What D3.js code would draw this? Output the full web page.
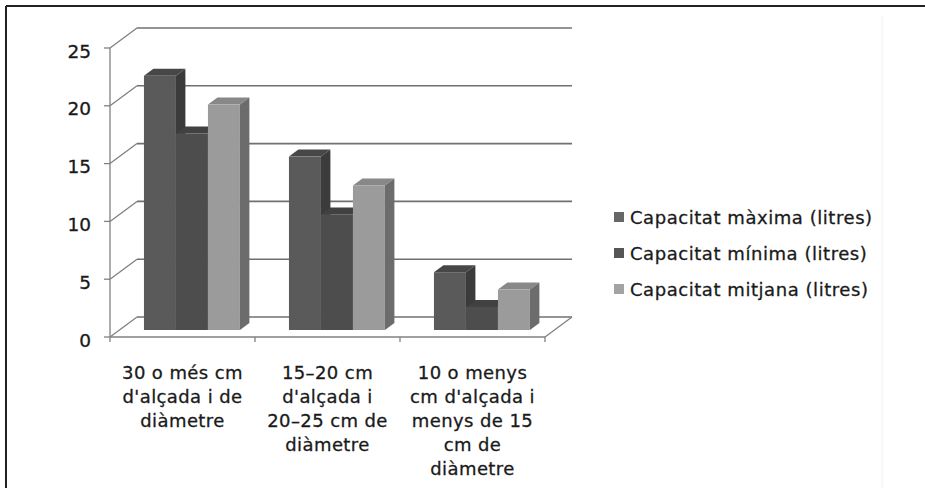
<!DOCTYPE html>
<html>
<head>
<meta charset="utf-8">
<script src="https://cdn.jsdelivr.net/npm/d3@7/dist/d3.min.js"></script>
<style>
  html, body { margin: 0; padding: 0; background: #fff; }
  svg { display: block; }
  text { font-family: "DejaVu Sans", Verdana, sans-serif; fill: #1a1a1a; stroke: #1a1a1a; stroke-width: 0.3px; }
</style>
</head>
<body>
<svg id="chart" width="925" height="488"></svg>
<script>
// ---- data ----
const categories = [
  ["30 o més cm", "d'alçada i de", "diàmetre"],
  ["15–20 cm", "d'alçada i", "20–25 cm de", "diàmetre"],
  ["10 o menys", "cm d'alçada i", "menys de 15", "cm de", "diàmetre"]
];
const seriesNames = ["Capacitat màxima (litres)", "Capacitat mínima (litres)", "Capacitat mitjana (litres)"];
const maxValues = [22, 15, 5];
const minValues = [17, 10, 2];
const avgValues = [19.5, 12.5, 3.5];
const yTicks = [0, 5, 10, 15, 20, 25];

const seriesValues = [maxValues, minValues, avgValues];
const faceColors = [
  { front: "#5a5a5a", top: "#474747", side: "#3b3b3b", legend: "#666666" },
  { front: "#4d4d4d", top: "#414141", side: "#333333", legend: "#555555" },
  { front: "#9b9b9b", top: "#888888", side: "#6c6c6c", legend: "#a3a3a3" }
];

const svg = d3.select("#chart");

// border
svg.append("line").attr("x1", 6).attr("y1", 6).attr("x2", 925).attr("y2", 6).attr("stroke", "#222").attr("stroke-width", 2);
svg.append("line").attr("x1", 6).attr("y1", 6).attr("x2", 6).attr("y2", 488).attr("stroke", "#222").attr("stroke-width", 2);
svg.append("line").attr("x1", 882).attr("y1", 16).attr("x2", 882).attr("y2", 488).attr("stroke", "#f2f2f2").attr("stroke-width", 1);

// geometry
const DX = 27, DY = -20; // full depth offset
const x0 = d3.scaleBand().domain(d3.range(categories.length)).range([110, 545]).paddingInner(0).paddingOuter(0);
const x1 = d3.scaleBand().domain(d3.range(seriesNames.length)).range([0, x0.bandwidth()]).paddingInner(0).paddingOuter(0.766);
const y = d3.scaleLinear().domain([0, 25]).range([337, 48]);

const grid = svg.append("g");
// back wall gridlines and left wall diagonals
yTicks.forEach(t => {
  grid.append("line")
    .attr("x1", 110 + DX).attr("y1", y(t) + DY)
    .attr("x2", 545 + DX).attr("y2", y(t) + DY)
    .attr("stroke", "#707070").attr("stroke-width", 1.6);
  grid.append("line")
    .attr("x1", 110).attr("y1", y(t))
    .attr("x2", 110 + DX).attr("y2", y(t) + DY)
    .attr("stroke", "#808080").attr("stroke-width", 1.3);
});
// floor right edge
grid.append("line")
  .attr("x1", 545).attr("y1", y(0)).attr("x2", 545 + DX).attr("y2", y(0) + DY)
  .attr("stroke", "#808080").attr("stroke-width", 1.3);

// bars
const f0 = 0.35, f1 = 0.70;
const bars = svg.append("g");
categories.forEach((c, ci) => {
  seriesValues.forEach((vals, si) => {
    const v = vals[ci];
    const xl = x0(ci) + x1(si) + f0 * DX;
    const w = x1.bandwidth();
    const yb = y(0) + f0 * DY;
    const yt = y(v) + f0 * DY;
    const ddx = (f1 - f0) * DX, ddy = (f1 - f0) * DY;
    const col = faceColors[si];
    bars.append("path")
      .attr("d", `M${xl},${yt}L${xl + w},${yt}L${xl + w + ddx},${yt + ddy}L${xl + ddx},${yt + ddy}Z`)
      .attr("fill", col.top);
    bars.append("path")
      .attr("d", `M${xl + w},${yt}L${xl + w + ddx},${yt + ddy}L${xl + w + ddx},${yb + ddy}L${xl + w},${yb}Z`)
      .attr("fill", col.side);
    bars.append("rect")
      .attr("x", xl).attr("y", yt).attr("width", w).attr("height", yb - yt)
      .attr("fill", col.front);
  });
});

// front axes
const axisG = svg.append("g");
axisG.append("line").attr("x1", 110).attr("y1", y(25)).attr("x2", 110).attr("y2", y(0))
  .attr("stroke", "#808080").attr("stroke-width", 1.3);
axisG.append("line").attr("x1", 110).attr("y1", y(0)).attr("x2", 545).attr("y2", y(0))
  .attr("stroke", "#808080").attr("stroke-width", 1.3);
yTicks.forEach(t => {
  axisG.append("line").attr("x1", 104).attr("y1", y(t)).attr("x2", 110).attr("y2", y(t))
    .attr("stroke", "#808080").attr("stroke-width", 1.3);
  axisG.append("text").attr("x", 91).attr("y", y(t) + 9.5)
    .attr("text-anchor", "end").attr("font-size", 18.5).text(t);
});
d3.range(categories.length + 1).forEach(i => {
  const xx = i < categories.length ? x0(i) : x0(categories.length - 1) + x0.bandwidth();
  axisG.append("line").attr("x1", xx).attr("y1", y(0)).attr("x2", xx).attr("y2", y(0) + 5)
    .attr("stroke", "#808080").attr("stroke-width", 1.3);
});

// category labels
categories.forEach((lines, ci) => {
  const cx = x0(ci) + x0.bandwidth() / 2;
  lines.forEach((ln, li) => {
    axisG.append("text").attr("x", cx).attr("y", 379 + li * 24)
      .attr("text-anchor", "middle").attr("font-size", 18).attr("letter-spacing", "0.4px")
      .text(ln);
  });
});

// legend
const lg = svg.append("g");
seriesNames.forEach((name, i) => {
  const base = 224 + i * 36;
  lg.append("rect").attr("x", 614).attr("y", base - 12).attr("width", 10).attr("height", 10)
    .attr("fill", faceColors[i].legend);
  lg.append("text").attr("x", 630).attr("y", base).attr("font-size", 18)
    .attr("letter-spacing", "0.55px").text(name);
});
</script>
</body>
</html>
